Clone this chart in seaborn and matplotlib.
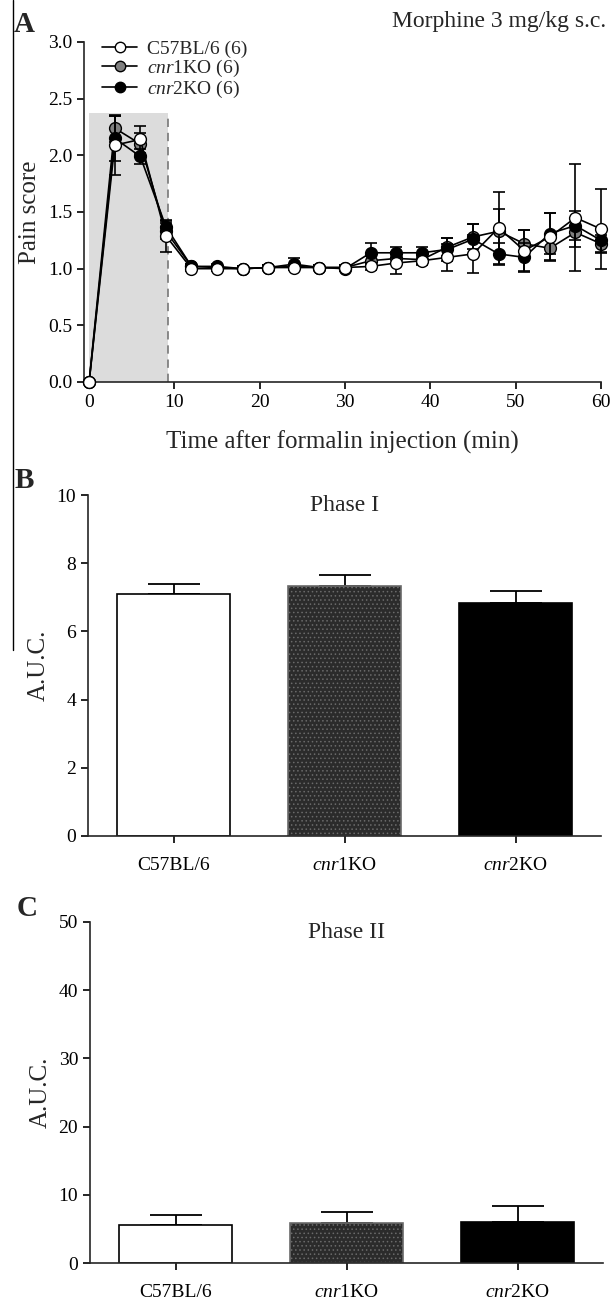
import numpy as np
import pandas as pd
import matplotlib
matplotlib.use("Agg")
import matplotlib.pyplot as plt
import seaborn as sns
from matplotlib.lines import Line2D

# panel A: pain score time course (mean, sem), every 3 min
time_min = [0, 3, 6, 9, 12, 15, 18, 21, 24, 27, 30, 33, 36, 39, 42, 45, 48, 51, 54, 57, 60]
wt_mean = [0.0, 2.09, 2.14, 1.29, 1.00, 1.00, 1.00, 1.01, 1.01, 1.01, 1.01, 1.02, 1.05, 1.07, 1.10, 1.13, 1.36, 1.16, 1.28, 1.45, 1.35]
wt_sem = [0.0, 0.26, 0.12, 0.14, 0.02, 0.02, 0.02, 0.02, 0.02, 0.02, 0.02, 0.03, 0.10, 0.04, 0.12, 0.17, 0.32, 0.18, 0.21, 0.47, 0.35]
cnr1_mean = [0.0, 2.24, 2.10, 1.33, 1.02, 1.01, 1.00, 1.01, 1.02, 1.01, 1.01, 1.07, 1.09, 1.08, 1.19, 1.28, 1.33, 1.22, 1.18, 1.32, 1.22]
cnr1_sem = [0.0, 0.12, 0.10, 0.07, 0.02, 0.02, 0.02, 0.02, 0.02, 0.02, 0.02, 0.04, 0.04, 0.04, 0.08, 0.11, 0.20, 0.12, 0.10, 0.13, 0.08]
cnr2_mean = [0.0, 2.15, 1.99, 1.37, 1.02, 1.02, 1.00, 1.01, 1.04, 1.01, 1.00, 1.14, 1.14, 1.14, 1.17, 1.26, 1.13, 1.10, 1.31, 1.38, 1.25]
cnr2_sem = [0.0, 0.20, 0.07, 0.05, 0.02, 0.02, 0.02, 0.02, 0.05, 0.02, 0.02, 0.09, 0.05, 0.05, 0.10, 0.13, 0.10, 0.13, 0.18, 0.13, 0.10]

# panels B and C: area under curve
groups = ["C57BL/6", "cnr1KO", "cnr2KO"]
group_ticks = ["C57BL/6", r"$\it{cnr1}$KO", r"$\it{cnr2}$KO"]
phase1_auc = [7.1, 7.33, 6.83]
phase1_sem = [0.28, 0.32, 0.35]
phase2_auc = [5.6, 5.8, 6.0]
phase2_sem = [1.5, 1.7, 2.3]

sns.set_theme(style="ticks")
plt.rcParams["font.family"] = ["Liberation Serif", "DejaVu Serif"]
plt.rcParams["mathtext.fontset"] = "custom"
plt.rcParams["mathtext.rm"] = "Liberation Serif"
plt.rcParams["mathtext.it"] = "Liberation Serif:italic"
plt.rcParams["axes.linewidth"] = 1.2
plt.rcParams["xtick.major.width"] = 1.2
plt.rcParams["ytick.major.width"] = 1.2
plt.rcParams["xtick.major.size"] = 5
plt.rcParams["ytick.major.size"] = 5
plt.rcParams["xtick.color"] = "black"
plt.rcParams["ytick.color"] = "black"
plt.rcParams["hatch.linewidth"] = 0.6

W, H = 610, 1302
fig = plt.figure(figsize=(W / 100, H / 100), dpi=100)


def px_axes(left, right, top, bottom):
    return fig.add_axes([left / W, 1 - bottom / H, (right - left) / W, (bottom - top) / H])


# ---------------- panel A ----------------
axA = px_axes(84, 601, 42, 382)
axA.axvspan(0, 9.2, ymin=0, ymax=2.37 / 3, color="#dcdcdc", lw=0, zorder=0)
axA.plot([9.2, 9.2], [0, 2.37], color="#777777", lw=1.2, ls=(0, (5, 3.5)), zorder=1)

series = [
    ("cnr1", cnr1_mean, cnr1_sem, "#808080", r"$\it{cnr1}$KO (6)", 3),
    ("cnr2", cnr2_mean, cnr2_sem, "black", r"$\it{cnr}$2KO (6)", 4),
    ("wt", wt_mean, wt_sem, "white", "C57BL/6 (6)", 5),
]
handles = {}
for key, m, s, fc, lab, z in series:
    axA.errorbar(time_min, m, yerr=s, fmt="none", ecolor="black", elinewidth=1.2,
                 capsize=4, capthick=1.2, zorder=z - 0.5, clip_on=False)
    sns.lineplot(x=time_min, y=m, ax=axA, color="black", lw=1.2, marker="o",
                 markersize=8.5, markerfacecolor=fc, markeredgecolor="black",
                 markeredgewidth=1.0, zorder=z, clip_on=False, legend=False)
    handles[key] = Line2D([], [], color="black", lw=1.2, marker="o", markersize=7.5,
                          markerfacecolor=fc, markeredgecolor="black", label=lab)

axA.set_xlim(-0.6, 60)
axA.set_ylim(0, 3)
axA.set_xticks(range(0, 61, 10))
axA.set_yticks(np.arange(0, 3.01, 0.5))
axA.set_yticklabels([f"{v:.1f}" for v in np.arange(0, 3.01, 0.5)])
axA.tick_params(labelsize=14)
axA.set_xlabel("Time after formalin injection (min)", fontsize=18, labelpad=14)
axA.set_ylabel("Pain score", fontsize=18, labelpad=5)
sns.despine(ax=axA)
axA.legend(handles=[handles["wt"], handles["cnr1"], handles["cnr2"]],
           loc="upper left", bbox_to_anchor=(0.02, 1.028), frameon=False,
           fontsize=14, handlelength=1.8, handletextpad=0.5, labelspacing=0.0,
           borderaxespad=0)

fig.text(606 / W, 1 - 22 / H, "Morphine 3 mg/kg s.c.", ha="right", va="center", fontsize=17)
fig.text(14 / W, 1 - 25 / H, "A", ha="left", va="center", fontsize=21, fontweight="bold")
fig.add_artist(Line2D([13 / W, 13 / W], [1.0, 1 - 650 / H], color="black", lw=1.0))


# ---------------- panels B and C ----------------
def auc_panel(ax, vals, sems, ymax, title):
    df = pd.DataFrame({"group": groups, "auc": vals})
    sns.barplot(data=df, x="group", y="auc", ax=ax, order=groups, width=0.665,
                errorbar=None, color="white", edgecolor="black", linewidth=1.2,
                saturation=1, zorder=2)
    bars = ax.patches
    bars[0].set_facecolor("white")
    bars[1].set_facecolor("#2b2b2b")
    bars[1].set_hatch("....")
    bars[1].set_edgecolor("#6a6a6a")
    bars[2].set_facecolor("black")
    ax.errorbar(range(3), vals, yerr=[[0, 0, 0], sems], fmt="none", ecolor="black",
                elinewidth=1.3, capsize=19, capthick=1.3, zorder=1)
    ax.set_xlim(-0.5, 2.5)
    ax.set_ylim(0, ymax)
    ax.set_xticks(range(3))
    ax.set_xticklabels(group_ticks)
    ax.tick_params(labelsize=14)
    ax.tick_params(axis="x", pad=10)
    ax.set_xlabel("")
    ax.set_ylabel("A.U.C.", fontsize=18, labelpad=5)
    ax.text(0.5, 1.0, title, transform=ax.transAxes, ha="center", va="top", fontsize=17)
    sns.despine(ax=ax)


axB = px_axes(88, 601, 495, 836)
auc_panel(axB, phase1_auc, phase1_sem, 10, "Phase I")
axB.set_yticks(range(0, 11, 2))
fig.text(15 / W, 1 - 480 / H, "B", ha="left", va="center", fontsize=21, fontweight="bold")

axC = px_axes(90, 603, 922, 1263)
auc_panel(axC, phase2_auc, phase2_sem, 50, "Phase II")
axC.set_yticks(range(0, 51, 10))
fig.text(17 / W, 1 - 909 / H, "C", ha="left", va="center", fontsize=21, fontweight="bold")

fig.savefig("out.png", dpi=100)
